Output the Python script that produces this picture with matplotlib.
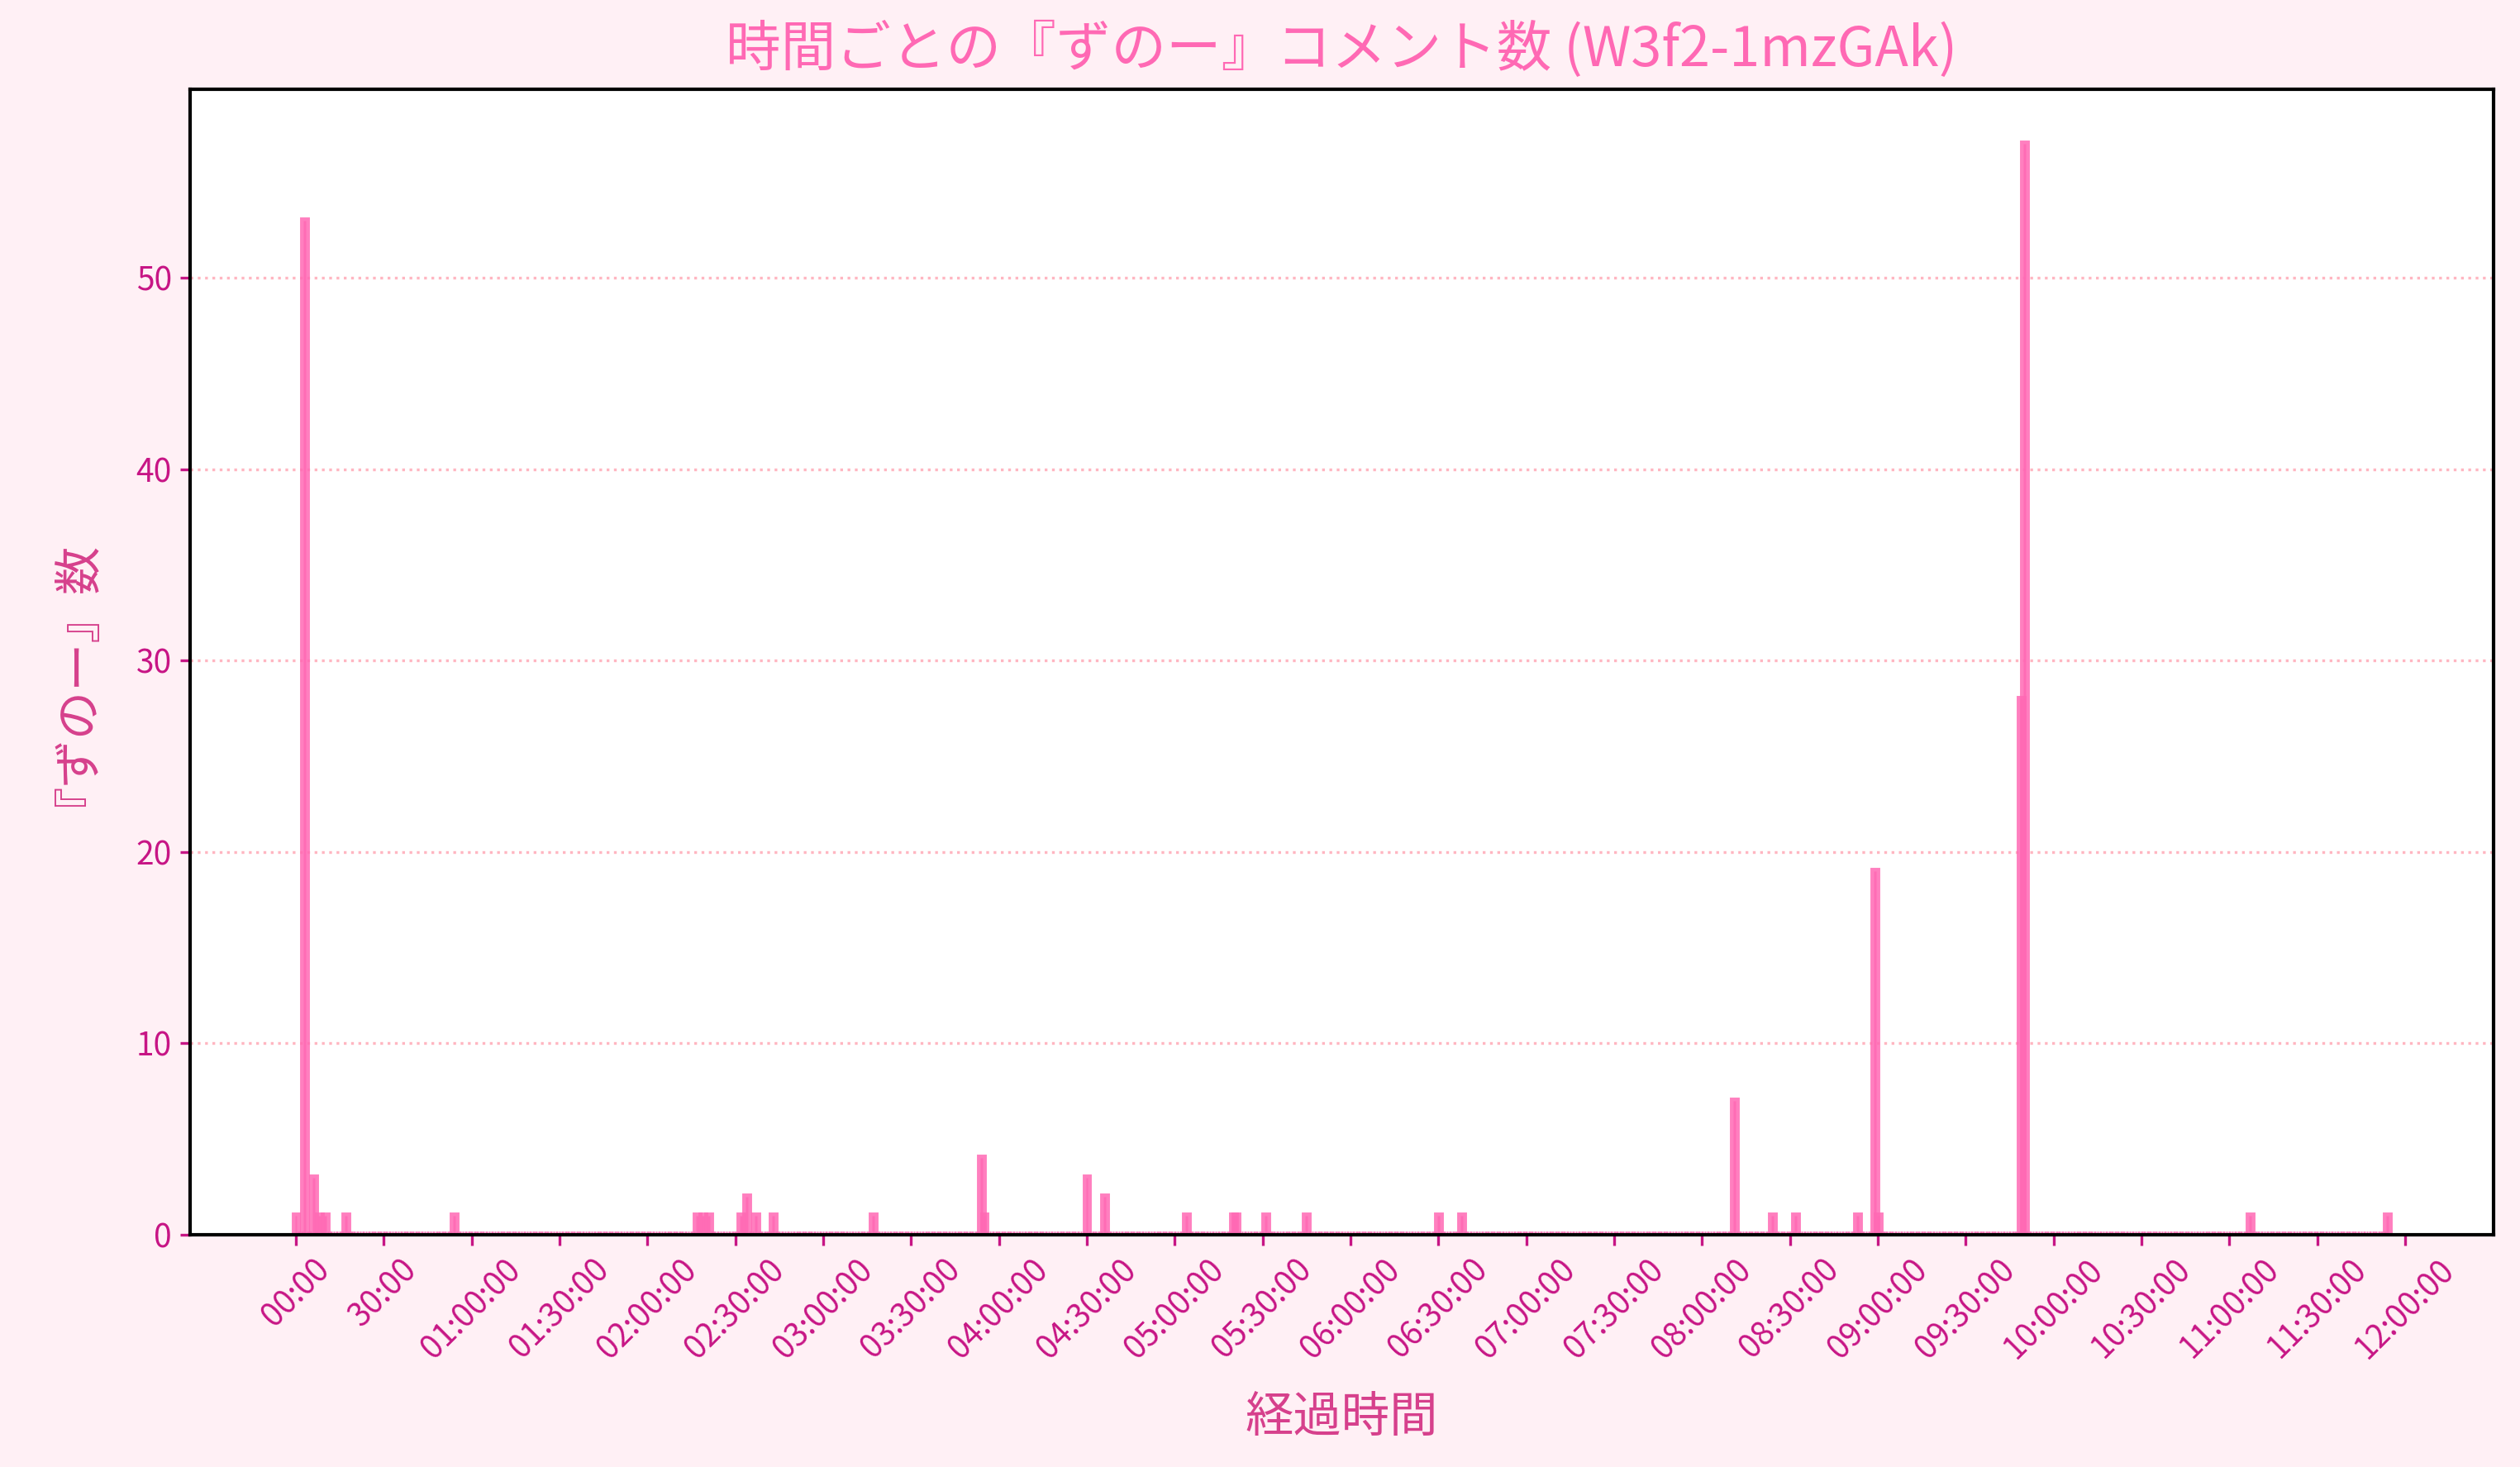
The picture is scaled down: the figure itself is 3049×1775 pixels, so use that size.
import matplotlib
matplotlib.use("Agg")
import matplotlib.pyplot as plt
import numpy as np

# comment counts per minute of the stream (only minutes with comments)
minutes = [0, 3, 6, 8, 10, 17, 54, 137, 139, 141, 152, 154, 157, 163, 197,
           234, 235, 270, 276, 304, 320, 321, 331, 345, 390, 398, 491, 504,
           512, 533, 539, 540, 589, 590, 667, 714]
counts = [1, 53, 3, 1, 1, 1, 1, 1, 1, 1, 1, 2, 1, 1, 1,
          4, 1, 3, 2, 1, 1, 1, 1, 1, 1, 1, 7, 1,
          1, 1, 19, 1, 28, 57, 1, 1]
last_minute = 714

tick_minutes = list(range(0, 721, 30))
tick_labels = ["00:00", "30:00", "01:00:00", "01:30:00", "02:00:00", "02:30:00",
               "03:00:00", "03:30:00", "04:00:00", "04:30:00", "05:00:00",
               "05:30:00", "06:00:00", "06:30:00", "07:00:00", "07:30:00",
               "08:00:00", "08:30:00", "09:00:00", "09:30:00", "10:00:00",
               "10:30:00", "11:00:00", "11:30:00", "12:00:00"]

title = "時間ごとの『ずのー』コメント数 (W3f2-1mzGAk)"
xlabel = "経過時間"
ylabel = "『ずのー』数"

plt.rcParams['font.family'] = ['Noto Sans CJK JP', 'DejaVu Sans']

# every minute gets a bar, empty minutes are zero
allMinutes = np.arange(last_minute + 1)
allCounts = np.zeros(last_minute + 1)
allCounts[minutes] = counts

fig = plt.figure(figsize=(15.245, 8.875), dpi=200, facecolor="#fff0f5")
ax = fig.add_subplot(111)
fig.subplots_adjust(left=0.0754, right=0.9895, bottom=0.1583, top=0.9392)
ax.set_facecolor("white")

ax.bar(allMinutes, allCounts, width=0.8, color="#ff69b4", alpha=0.85,
       edgecolor="#ff69b4", linewidth=3.2, zorder=2)

ax.set_xticks(tick_minutes)
ax.set_xticklabels(tick_labels, rotation=45)
ax.set_yticks([0, 10, 20, 30, 40, 50])

ax.tick_params(axis="both", colors="#c71585", labelsize=14, length=4.5, width=1.2)
ax.yaxis.grid(True, linestyle=":", color="#ffb6c1", linewidth=1.2, zorder=0)
ax.set_axisbelow(True)
for sp in ax.spines.values():
    sp.set_linewidth(1.5)
    sp.set_color("black")

ax.set_title(title, color="#ff69b4", fontsize=24, pad=10)
ax.set_xlabel(xlabel, color="#d6408c", fontsize=21, labelpad=12)
ax.set_ylabel(ylabel, color="#d6408c", fontsize=21, labelpad=25)

plt.savefig("out.png", dpi=200, facecolor=fig.get_facecolor())
plt.close()
